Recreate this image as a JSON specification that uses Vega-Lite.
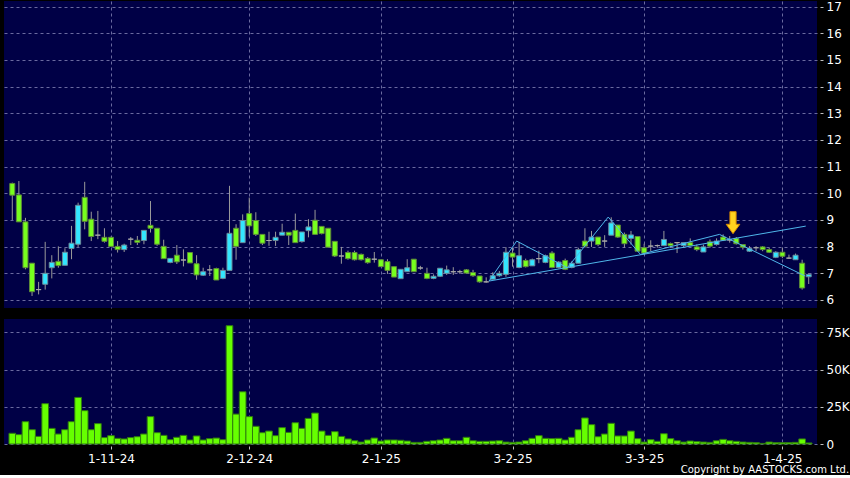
{
"$schema":"https://vega.github.io/schema/vega-lite/v6.json",
"background":"#000000",
"padding":{"left":4,"top":0,"right":0,"bottom":0},
"config":{"view":{"fill":"#000046","stroke":null},"font":"DejaVu Sans",
"axis":{"labelColor":"#ffffff","labelFont":"DejaVu Sans","labelFontSize":12,"gridColor":"#6a6aa0","gridDash":[3,3],"gridWidth":1,"gridOpacity":1,"tickColor":"#c0c0c0","domain":false,"title":null,"labelOverlap":false}},
"title":{"text":"Copyright by AASTOCKS.com Ltd.","orient":"bottom","anchor":"end","color":"#ffffff","fontSize":10,"fontWeight":"normal","font":"DejaVu Sans","offset":1},
"spacing":11,
"datasets":{
"px":[
{"i":0,"o":10.37,"h":10.4,"l":9.0,"c":9.93,"v":7200},
{"i":1,"o":9.94,"h":10.46,"l":8.93,"c":8.93,"v":6300},
{"i":2,"o":8.93,"h":9.08,"l":7.15,"c":7.21,"v":15000},
{"i":3,"o":7.38,"h":7.38,"l":6.15,"c":6.31,"v":9600},
{"i":4,"o":6.39,"h":6.68,"l":6.21,"c":6.39,"v":5100},
{"i":5,"o":6.59,"h":8.18,"l":6.39,"c":7.0,"v":27100},
{"i":6,"o":7.21,"h":7.68,"l":6.81,"c":7.41,"v":10500},
{"i":7,"o":7.45,"h":8.01,"l":7.21,"c":7.29,"v":6700},
{"i":8,"o":7.3,"h":7.94,"l":7.3,"c":7.79,"v":9600},
{"i":9,"o":7.93,"h":8.78,"l":7.53,"c":8.13,"v":15000},
{"i":10,"o":8.09,"h":9.65,"l":7.99,"c":9.55,"v":31300},
{"i":11,"o":9.85,"h":10.43,"l":8.65,"c":8.95,"v":22400},
{"i":12,"o":9.03,"h":9.31,"l":8.21,"c":8.38,"v":9600},
{"i":13,"o":8.43,"h":9.34,"l":8.28,"c":8.43,"v":13700},
{"i":14,"o":8.35,"h":8.69,"l":8.15,"c":8.2,"v":4300},
{"i":15,"o":8.35,"h":8.38,"l":7.99,"c":8.01,"v":5600},
{"i":16,"o":8.01,"h":8.21,"l":7.78,"c":7.89,"v":3800},
{"i":17,"o":7.89,"h":8.11,"l":7.8,"c":8.06,"v":3400},
{"i":18,"o":8.28,"h":8.36,"l":8.06,"c":8.28,"v":4300},
{"i":19,"o":8.24,"h":8.4,"l":8.06,"c":8.16,"v":4900},
{"i":20,"o":8.23,"h":8.61,"l":8.09,"c":8.61,"v":6700},
{"i":21,"o":8.8,"h":9.71,"l":8.53,"c":8.69,"v":18400},
{"i":22,"o":8.69,"h":8.69,"l":8.03,"c":8.09,"v":7600},
{"i":23,"o":8.01,"h":8.26,"l":7.55,"c":7.55,"v":5800},
{"i":24,"o":7.41,"h":7.56,"l":7.38,"c":7.56,"v":2900},
{"i":25,"o":7.68,"h":8.06,"l":7.35,"c":7.43,"v":4500},
{"i":26,"o":7.5,"h":7.9,"l":7.26,"c":7.5,"v":5800},
{"i":27,"o":7.78,"h":7.78,"l":7.39,"c":7.39,"v":2700},
{"i":28,"o":7.36,"h":7.68,"l":6.76,"c":6.94,"v":5400},
{"i":29,"o":6.93,"h":7.21,"l":6.9,"c":7.06,"v":2700},
{"i":30,"o":7.13,"h":7.31,"l":6.9,"c":7.13,"v":3600},
{"i":31,"o":7.18,"h":7.21,"l":6.75,"c":6.75,"v":4000},
{"i":32,"o":6.81,"h":7.21,"l":6.78,"c":7.11,"v":2900},
{"i":33,"o":7.11,"h":10.28,"l":7.11,"c":8.5,"v":79500},
{"i":34,"o":8.69,"h":8.84,"l":7.51,"c":8.01,"v":20100},
{"i":35,"o":8.15,"h":9.21,"l":8.15,"c":8.98,"v":35100},
{"i":36,"o":9.24,"h":9.84,"l":8.38,"c":8.78,"v":18400},
{"i":37,"o":8.98,"h":9.29,"l":8.4,"c":8.46,"v":11900},
{"i":38,"o":8.46,"h":8.46,"l":8.06,"c":8.13,"v":7600},
{"i":39,"o":8.23,"h":8.56,"l":8.03,"c":8.23,"v":8700},
{"i":40,"o":8.23,"h":8.56,"l":8.03,"c":8.35,"v":5600},
{"i":41,"o":8.43,"h":8.86,"l":8.43,"c":8.54,"v":11000},
{"i":42,"o":8.54,"h":8.54,"l":8.06,"c":8.43,"v":7800},
{"i":43,"o":8.61,"h":9.24,"l":8.15,"c":8.15,"v":14300},
{"i":44,"o":8.19,"h":8.55,"l":8.15,"c":8.55,"v":10500},
{"i":45,"o":8.6,"h":9.03,"l":8.35,"c":8.74,"v":17200},
{"i":46,"o":8.99,"h":9.38,"l":8.46,"c":8.46,"v":20800},
{"i":47,"o":8.76,"h":8.76,"l":8.46,"c":8.49,"v":8700},
{"i":48,"o":8.69,"h":8.69,"l":7.98,"c":7.98,"v":5800},
{"i":49,"o":8.2,"h":8.2,"l":7.61,"c":7.65,"v":8300},
{"i":50,"o":7.65,"h":7.99,"l":7.36,"c":7.65,"v":5100},
{"i":51,"o":7.78,"h":7.85,"l":7.51,"c":7.55,"v":3400},
{"i":52,"o":7.78,"h":7.85,"l":7.48,"c":7.51,"v":2200},
{"i":53,"o":7.71,"h":7.74,"l":7.48,"c":7.51,"v":1300},
{"i":54,"o":7.56,"h":7.61,"l":7.36,"c":7.4,"v":2700},
{"i":55,"o":7.53,"h":7.8,"l":7.4,"c":7.53,"v":4000},
{"i":56,"o":7.51,"h":7.51,"l":7.25,"c":7.25,"v":2000},
{"i":57,"o":7.44,"h":7.53,"l":6.98,"c":7.11,"v":2700},
{"i":58,"o":7.25,"h":7.25,"l":6.86,"c":6.86,"v":2700},
{"i":59,"o":6.8,"h":7.15,"l":6.8,"c":7.15,"v":2500},
{"i":60,"o":7.06,"h":7.53,"l":7.06,"c":7.21,"v":2000},
{"i":61,"o":7.53,"h":7.53,"l":7.06,"c":7.06,"v":1100},
{"i":62,"o":7.2,"h":7.28,"l":7.13,"c":7.2,"v":1100},
{"i":63,"o":7.0,"h":7.21,"l":6.78,"c":6.81,"v":1800},
{"i":64,"o":6.81,"h":6.96,"l":6.78,"c":6.89,"v":2200},
{"i":65,"o":6.89,"h":7.19,"l":6.86,"c":7.19,"v":2700},
{"i":66,"o":7.0,"h":7.29,"l":6.94,"c":7.13,"v":3800},
{"i":67,"o":7.06,"h":7.23,"l":6.94,"c":7.06,"v":2200},
{"i":68,"o":7.06,"h":7.13,"l":6.98,"c":7.06,"v":2200},
{"i":69,"o":7.13,"h":7.16,"l":6.99,"c":7.01,"v":4500},
{"i":70,"o":7.03,"h":7.13,"l":6.87,"c":6.91,"v":2200},
{"i":71,"o":6.9,"h":6.9,"l":6.65,"c":6.68,"v":1800},
{"i":72,"o":6.68,"h":6.85,"l":6.65,"c":6.68,"v":1800},
{"i":73,"o":6.78,"h":7.04,"l":6.78,"c":6.91,"v":2000},
{"i":74,"o":6.91,"h":7.09,"l":6.87,"c":7.0,"v":2200},
{"i":75,"o":6.96,"h":7.98,"l":6.87,"c":7.79,"v":1300},
{"i":76,"o":7.76,"h":7.96,"l":7.25,"c":7.61,"v":1100},
{"i":77,"o":7.22,"h":8.18,"l":7.19,"c":7.66,"v":1300},
{"i":78,"o":7.48,"h":7.55,"l":7.22,"c":7.25,"v":2200},
{"i":79,"o":7.28,"h":7.55,"l":7.28,"c":7.51,"v":3800},
{"i":80,"o":7.55,"h":7.85,"l":7.38,"c":7.55,"v":5600},
{"i":81,"o":7.41,"h":7.7,"l":7.38,"c":7.66,"v":3800},
{"i":82,"o":7.76,"h":7.83,"l":7.19,"c":7.22,"v":3600},
{"i":83,"o":7.22,"h":7.45,"l":7.19,"c":7.42,"v":3800},
{"i":84,"o":7.48,"h":7.55,"l":7.12,"c":7.15,"v":2700},
{"i":85,"o":7.22,"h":7.45,"l":7.19,"c":7.38,"v":4500},
{"i":86,"o":7.38,"h":7.96,"l":7.38,"c":7.89,"v":9600},
{"i":87,"o":8.21,"h":8.69,"l":7.96,"c":8.02,"v":17500},
{"i":88,"o":8.21,"h":8.59,"l":7.99,"c":8.36,"v":13000},
{"i":89,"o":8.36,"h":8.36,"l":8.02,"c":8.08,"v":4900},
{"i":90,"o":8.21,"h":8.43,"l":7.99,"c":8.21,"v":6700},
{"i":91,"o":8.43,"h":9.1,"l":8.43,"c":8.89,"v":13900},
{"i":92,"o":8.81,"h":8.81,"l":8.33,"c":8.36,"v":5400},
{"i":93,"o":8.46,"h":8.53,"l":7.96,"c":8.11,"v":5400},
{"i":94,"o":8.31,"h":8.59,"l":8.08,"c":8.44,"v":8700},
{"i":95,"o":8.38,"h":8.38,"l":7.83,"c":7.83,"v":3600},
{"i":96,"o":7.96,"h":8.11,"l":7.7,"c":7.76,"v":1300},
{"i":97,"o":8.02,"h":8.24,"l":7.83,"c":8.02,"v":2900},
{"i":98,"o":8.04,"h":8.08,"l":7.96,"c":8.04,"v":1800},
{"i":99,"o":8.04,"h":8.59,"l":8.02,"c":8.27,"v":6900},
{"i":100,"o":8.12,"h":8.15,"l":7.96,"c":8.04,"v":3600},
{"i":101,"o":8.15,"h":8.15,"l":7.76,"c":8.15,"v":2200},
{"i":102,"o":8.04,"h":8.15,"l":7.96,"c":8.15,"v":1300},
{"i":103,"o":8.15,"h":8.31,"l":8.02,"c":8.04,"v":2000},
{"i":104,"o":7.99,"h":8.08,"l":7.83,"c":7.89,"v":1600},
{"i":105,"o":7.8,"h":8.08,"l":7.8,"c":7.99,"v":1300},
{"i":106,"o":8.18,"h":8.27,"l":7.96,"c":8.02,"v":1100},
{"i":107,"o":8.08,"h":8.31,"l":8.04,"c":8.21,"v":2200},
{"i":108,"o":8.36,"h":8.46,"l":8.21,"c":8.24,"v":3100},
{"i":109,"o":8.25,"h":8.4,"l":8.15,"c":8.25,"v":2200},
{"i":110,"o":8.31,"h":8.36,"l":8.08,"c":8.11,"v":1800},
{"i":111,"o":8.08,"h":8.08,"l":7.89,"c":7.98,"v":1300},
{"i":112,"o":7.83,"h":8.02,"l":7.8,"c":7.93,"v":1100},
{"i":113,"o":7.96,"h":8.02,"l":7.83,"c":7.96,"v":900},
{"i":114,"o":7.99,"h":8.02,"l":7.83,"c":7.89,"v":400},
{"i":115,"o":7.89,"h":7.96,"l":7.76,"c":7.79,"v":1300},
{"i":116,"o":7.6,"h":7.83,"l":7.57,"c":7.79,"v":900},
{"i":117,"o":7.79,"h":7.96,"l":7.57,"c":7.64,"v":900},
{"i":118,"o":7.57,"h":7.7,"l":7.55,"c":7.57,"v":900},
{"i":119,"o":7.51,"h":7.74,"l":7.51,"c":7.68,"v":1100},
{"i":120,"o":7.38,"h":7.51,"l":6.39,"c":6.45,"v":3400},
{"i":121,"o":6.87,"h":7.0,"l":6.6,"c":6.96,"v":700}
],
"lines":[
{"g":"a","k":0,"i":72.43,"p":6.71},
{"g":"a","k":1,"i":76.63,"p":8.21},
{"g":"a","k":2,"i":84.33,"p":7.21},
{"g":"a","k":3,"i":90.54,"p":9.11},
{"g":"a","k":4,"i":95.43,"p":7.71},
{"g":"a","k":5,"i":107.44,"p":8.46},
{"g":"a","k":6,"i":120.45,"p":6.9},
{"g":"b","k":0,"i":72.43,"p":6.71},
{"g":"b","k":1,"i":120.55,"p":8.77}
],
"arrow":[{"i":109.5,"p":8.9}]
},
"vconcat":[
{"width":813,"height":307,
"layer":[
{"data":{"name":"px"},"mark":{"type":"rule","color":"#9a9a9a","strokeWidth":1},
"encoding":{
"x":{"field":"i","type":"quantitative","scale":{"domain":[-0.5,121.5],"nice":false,"zero":false},"axis":{"values":[15,36,56,76,96,117],"labels":false,"ticks":false,"grid":true}},
"y":{"field":"l","type":"quantitative","scale":{"domain":[5.7,17.21],"nice":false,"zero":false},"axis":{"orient":"right","values":[6,7,8,9,10,11,12,13,14,15,16,17],"grid":true,"tickSize":3,"offset":3,"labelPadding":3}},
"y2":{"field":"h"}}},
{"data":{"name":"px"},"mark":{"type":"bar","orient":"vertical","size":5,"strokeWidth":1},
"encoding":{
"x":{"field":"i","type":"quantitative","axis":{"values":[15,36,56,76,96,117],"labels":false,"ticks":false,"grid":true}},
"y":{"field":"o","type":"quantitative","axis":{"orient":"right","values":[6,7,8,9,10,11,12,13,14,15,16,17],"grid":true,"tickSize":3,"offset":3,"labelPadding":3}},
"y2":{"field":"c"},
"fill":{"condition":[{"test":"datum.c>datum.o","value":"#33e6ff"},{"test":"datum.c==datum.o","value":"#a0a0a0"}],"value":"#77ff1e"},
"stroke":{"condition":[{"test":"datum.c>datum.o","value":"#6a8a9a"},{"test":"datum.c==datum.o","value":"#a8a8a8"}],"value":"#5f8a3a"}}},
{"data":{"name":"lines"},"mark":{"type":"line","color":"#4fb6ea","strokeWidth":1},
"encoding":{"x":{"field":"i","type":"quantitative","axis":{"values":[15,36,56,76,96,117],"labels":false,"ticks":false,"grid":true}},"y":{"field":"p","type":"quantitative","axis":{"orient":"right","values":[6,7,8,9,10,11,12,13,14,15,16,17],"grid":true,"tickSize":3,"offset":3,"labelPadding":3}},"detail":{"field":"g"},"order":{"field":"k"}}},
{"data":{"name":"arrow"},"mark":{"type":"point","filled":true,"size":484,"shape":"M-0.28,-1 L0.28,-1 L0.28,0.15 L0.62,0.15 L0,1 L-0.62,0.15 L-0.28,0.15 Z","fill":"#ffd21f","stroke":"#d98c00","strokeWidth":1,"opacity":1},
"encoding":{"x":{"field":"i","type":"quantitative","axis":{"values":[15,36,56,76,96,117],"labels":false,"ticks":false,"grid":true}},"y":{"field":"p","type":"quantitative","axis":{"orient":"right","values":[6,7,8,9,10,11,12,13,14,15,16,17],"grid":true,"tickSize":3,"offset":3,"labelPadding":3}}}}
]},
{"width":813,"height":125,
"data":{"name":"px"},
"mark":{"type":"bar","orient":"vertical","size":6.66,"fill":"#66ff00","stroke":"#2f7a10","strokeWidth":1},
"encoding":{
"x":{"field":"i","type":"quantitative","scale":{"domain":[-0.5,121.5],"nice":false,"zero":false},"axis":{"values":[15,36,56,76,96,117],"labelExpr":"datum.value==15?'1-11-24':datum.value==36?'2-12-24':datum.value==56?'2-1-25':datum.value==76?'3-2-25':datum.value==96?'3-3-25':'1-4-25'","grid":true,"tickSize":3,"offset":2,"labelPadding":4}},
"y":{"field":"v","type":"quantitative","scale":{"domain":[0,84000],"nice":false},"axis":{"orient":"right","values":[0,25000,50000,75000],"labelExpr":"datum.value==0?'0':(datum.value/1000)+'K'","grid":true,"tickSize":3,"offset":3,"labelPadding":3}}}}
]
}
